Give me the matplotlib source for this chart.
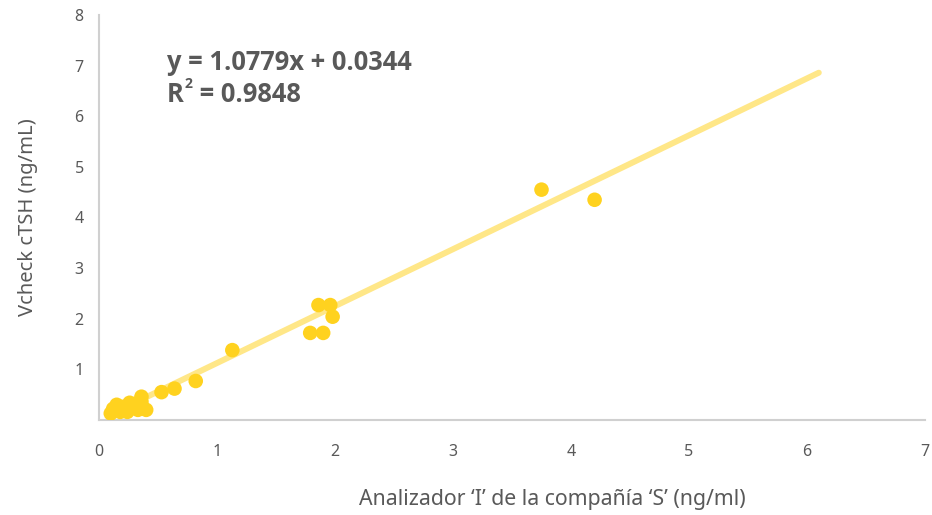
import matplotlib
matplotlib.use("Agg")
import matplotlib.pyplot as plt

# Data
x_vals = [0.10, 0.12, 0.15, 0.18, 0.20, 0.24, 0.26, 0.29, 0.31, 0.33, 0.36, 0.36, 0.37, 0.40,
          0.53, 0.64, 0.82, 1.13, 1.79, 1.86, 1.90, 1.96, 1.98, 3.75, 4.20]
y_vals = [0.13, 0.22, 0.30, 0.16, 0.26, 0.16, 0.34, 0.26, 0.32, 0.20, 0.46, 0.36, 0.24, 0.20,
          0.55, 0.62, 0.77, 1.38, 1.72, 2.27, 1.72, 2.27, 2.04, 4.55, 4.35]
trend_x = [0.08, 6.10]
trend_y = [0.09, 6.86]
x_ticks = [0, 1, 2, 3, 4, 5, 6, 7]
y_ticks = [1, 2, 3, 4, 5, 6, 7, 8]
equation_text = "y = 1.0779x + 0.0344"
r2_parts = ("R", "2", " = 0.9848")
x_label = "Analizador \u2018I\u2019 de la compañía \u2018S\u2019 (ng/ml)"
y_label = "Vcheck cTSH (ng/mL)"

plt.rcParams['font.family'] = ['Noto Sans', 'DejaVu Sans']
gray = "#595959"
bold_family = ['Open Sans', 'DejaVu Sans']

fig = plt.figure(figsize=(9.32, 5.15), dpi=100)
ax = fig.add_axes([0.1062, 0.1845, 0.8863, 0.7864])

ax.plot(trend_x, trend_y, color="#FFE788", lw=4.3, solid_capstyle="round", zorder=2)
ax.scatter(x_vals, y_vals, s=110, color="#FFD21F", edgecolors="none", zorder=3)

ax.set_xlim(0, 7)
ax.set_ylim(0, 8)
ax.set_xticks(x_ticks)
ax.set_yticks(y_ticks)
ax.tick_params(axis="both", length=0, labelsize=11.5, colors=gray)
ax.tick_params(axis="x", pad=17)
ax.tick_params(axis="y", pad=11)

for s in ["top", "right"]:
    ax.spines[s].set_visible(False)
for s in ["left", "bottom"]:
    ax.spines[s].set_color("#D0D0D0")
    ax.spines[s].set_linewidth(1.5)

fig.text(552/932, 1 - 500/515, x_label, fontsize=15.3, color=gray, ha="center", va="center")
ax.set_ylabel(y_label, fontsize=14.5, color=gray, labelpad=26)

eq_fs = 18.4
fig.text(167/932, 1 - 63/515, equation_text, fontsize=eq_fs, fontweight="bold", color=gray,
         va="center", ha="left", family=bold_family)

# R^2 line composed with a small superscript
fig.canvas.draw()
renderer = fig.canvas.get_renderer()
y_line = 1 - 95/515
t_r = fig.text(167/932, y_line, r2_parts[0], fontsize=eq_fs, fontweight="bold", color=gray,
               va="center", ha="left", family=bold_family)
bb = t_r.get_window_extent(renderer)
x_sup = (bb.x1 + 1) / fig.bbox.width
t_sup = fig.text(x_sup, y_line + 0.021, r2_parts[1], fontsize=eq_fs * 0.55, fontweight="bold",
                 color=gray, va="center", ha="left", family=bold_family)
bb2 = t_sup.get_window_extent(renderer)
fig.text(bb2.x1 / fig.bbox.width, y_line, r2_parts[2], fontsize=eq_fs, fontweight="bold",
         color=gray, va="center", ha="left", family=bold_family)

fig.savefig("out.png", dpi=100)
